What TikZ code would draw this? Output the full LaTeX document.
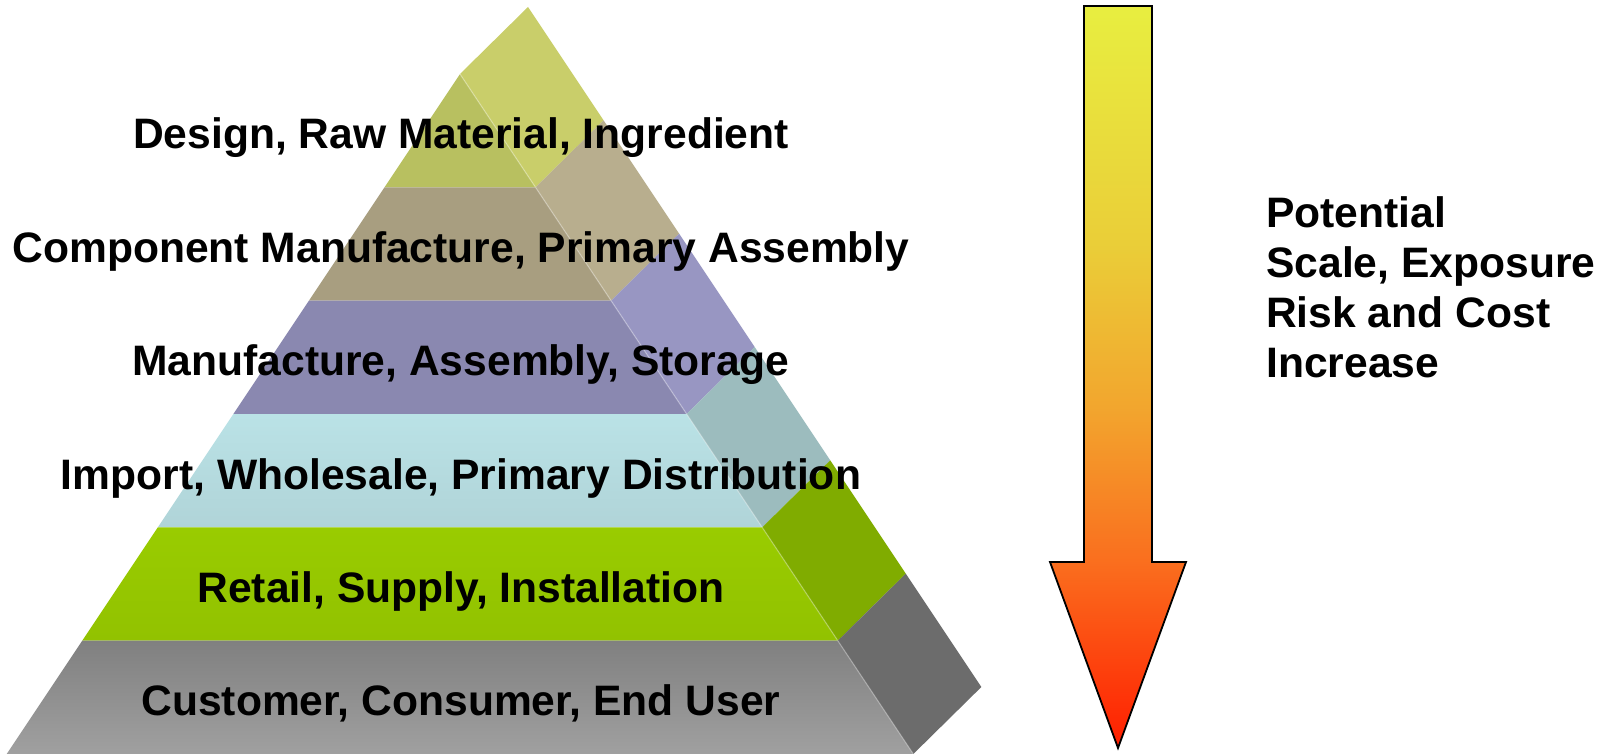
\documentclass[tikz,border=0pt]{standalone}
\usepackage{fontspec}
\setmainfont{Liberation Sans}
\usepackage{tikz}
\usetikzlibrary{positioning}

% front face / side face colours, top tier first
\definecolor{designF}{RGB}{184,192,96}
\definecolor{designS}{RGB}{201,206,106}
\definecolor{componentF}{RGB}{168,158,128}
\definecolor{componentS}{RGB}{184,174,142}
\definecolor{manufactureF}{RGB}{138,136,176}
\definecolor{manufactureS}{RGB}{152,150,194}
\definecolor{importFt}{RGB}{186,226,230}
\definecolor{importFb}{RGB}{176,212,216}
\definecolor{importS}{RGB}{156,188,190}
\definecolor{retailFt}{RGB}{153,204,0}
\definecolor{retailFb}{RGB}{146,194,0}
\definecolor{retailS}{RGB}{128,172,0}
\definecolor{customerFt}{RGB}{128,128,128}
\definecolor{customerFb}{RGB}{160,160,160}
\definecolor{customerS}{RGB}{108,108,108}

\definecolor{arrowYellow}{RGB}{232,238,64}
\definecolor{arrowAmber}{RGB}{234,206,56}
\definecolor{arrowOrange}{RGB}{242,166,46}
\definecolor{arrowDeep}{RGB}{250,110,30}
\definecolor{arrowRed}{RGB}{255,30,0}

\pgfdeclareverticalshading{riskshade}{100bp}{color(0bp)=(arrowRed); color(25bp)=(arrowRed);
    color(37.5bp)=(arrowDeep); color(48bp)=(arrowOrange); color(59bp)=(arrowAmber);
    color(75bp)=(arrowYellow); color(100bp)=(arrowYellow)}

\tikzset{
    tierlabel/.style={font=\fontsize{42.6}{50}\selectfont\bfseries, inner sep=0pt, anchor=base},
    risklabel/.style={font=\fontsize{42.6}{50}\selectfont\bfseries, inner sep=0pt, align=left, anchor=base west},
    edgeline/.style={draw=white, draw opacity=0.3, line width=1.2pt},
    riskarrow/.style={draw=black, line width=1.8pt, line join=miter, shading=riskshade}
}

\begin{document}
\begin{tikzpicture}[x=1pt,y=-1pt]
    \useasboundingbox (0,0) rectangle (1611,754);

    % pyramid tiers: front face and side face
    \foreach \i/\ftop/\fbot/\side in {0/designF/designF/designS, 1/componentF/componentF/componentS,
        2/manufactureF/manufactureF/manufactureS, 3/importFt/importFb/importS,
        4/retailFt/retailFb/retailS, 5/customerFt/customerFb/customerS} {
        \pgfmathsetmacro\tierTop{74+113.333*\i}
        \pgfmathsetmacro\tierBot{\tierTop+113.333}
        \pgfmathsetmacro\halfTop{(\tierTop-74)/1.5}
        \pgfmathsetmacro\halfBot{(\tierBot-74)/1.5}
        \shade[top color=\ftop, bottom color=\fbot]
            (460-\halfTop,\tierTop) -- (460+\halfTop,\tierTop)
            -- (460+\halfBot,\tierBot) -- (460-\halfBot,\tierBot) -- cycle;
        \fill[\side] (460+\halfTop,\tierTop) -- (460+\halfBot,\tierBot)
            -- (528+\halfBot,\tierBot-67) -- (528+\halfTop,\tierTop-67) -- cycle;
        \draw[edgeline] (460+\halfTop,\tierTop) -- (460+\halfBot,\tierBot);
    }

    % tier labels, on top of all faces
    \foreach \i/\txt in {0/{Design, Raw Material, Ingredient},
        1/{Component Manufacture, Primary Assembly},
        2/{Manufacture, Assembly, Storage},
        3/{Import, Wholesale, Primary Distribution},
        4/{Retail, Supply, Installation},
        5/{Customer, Consumer, End User}} {
        \node[tierlabel] (tier\i) at (461,74+113.333*\i+75) {\txt};
    }

    % risk arrow
    \path[riskarrow] (1084,6) -- (1152,6) -- (1152,562) -- (1186,562)
        -- (1118,748) -- (1050,562) -- (1084,562) -- cycle;
    \node[risklabel] (risk) at (1266,377) {Potential\\Scale, Exposure\\Risk and Cost\\Increase};
\end{tikzpicture}
\end{document}
